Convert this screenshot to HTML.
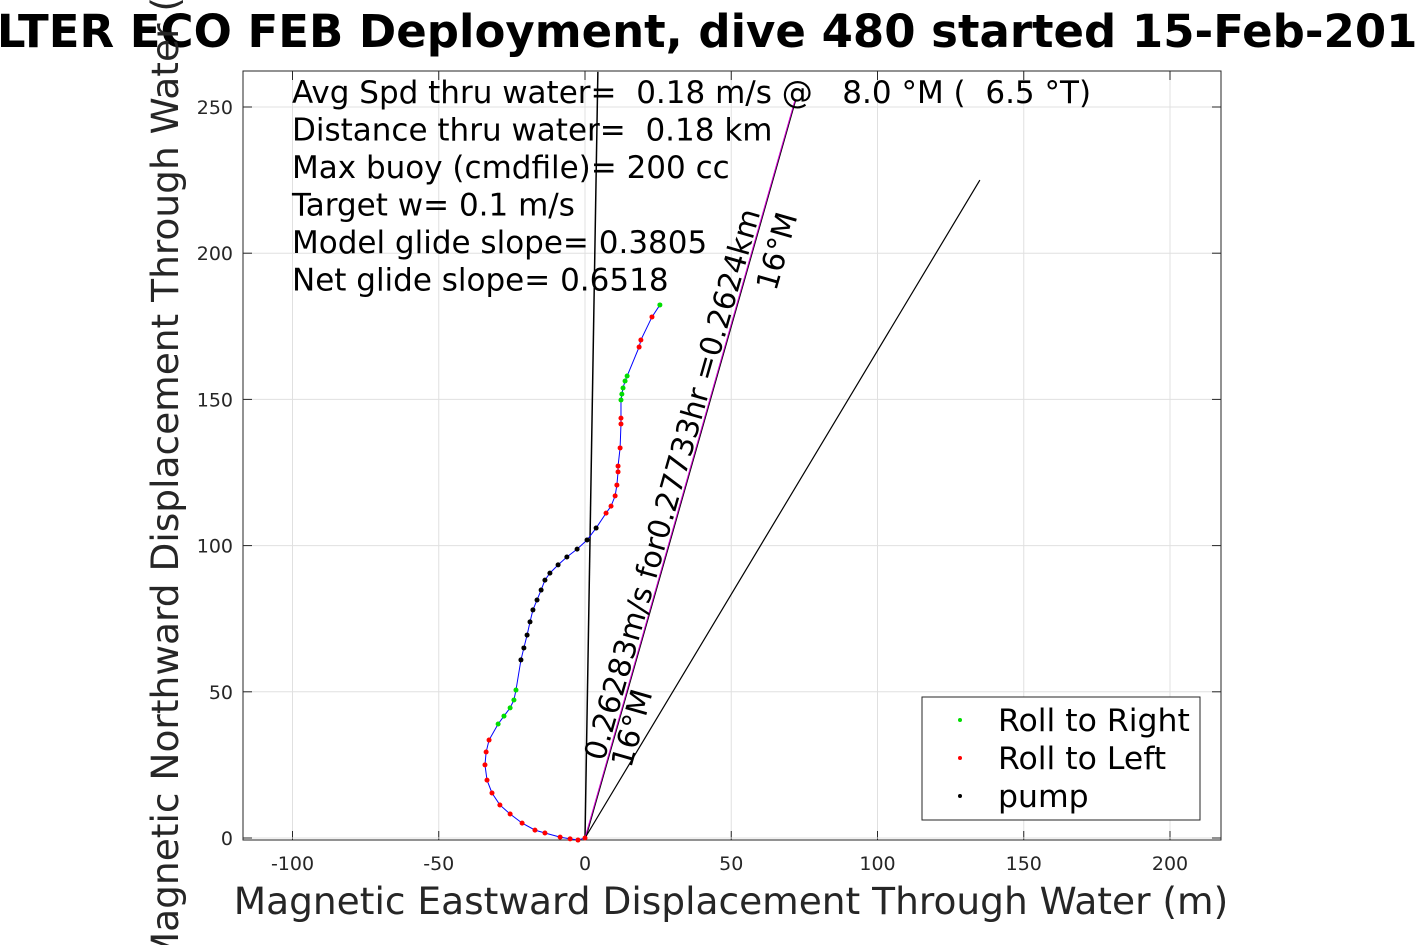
<!DOCTYPE html>
<html><head><meta charset="utf-8"><style>
body{margin:0;background:#fff;}
svg text{font-family:"DejaVu Sans","Liberation Sans",sans-serif;white-space:pre;}
</style></head><body>
<svg id="c" width="1417" height="945" xmlns="http://www.w3.org/2000/svg"></svg>
<script>
const xTicks=[-100,-50,0,50,100,150,200];
const yTicks=[0,50,100,150,200,250];
const trackX=[0,-2.4,-5.1,-8.5,-13.7,-17.1,-21.5,-25.6,-29.1,-31.8,-33.5,-34.2,-33.8,-32.8,-29.7,-27.7,-25.6,-24.3,-23.6,-21.9,-20.9,-19.8,-18.8,-17.8,-16.4,-15.0,-13.7,-12.0,-9.2,-6.2,-2.7,0.7,3.8,7.2,8.9,10.3,10.9,11.3,11.3,12.0,12.3,12.3,12.3,12.6,13.0,13.7,14.4,18.5,19.1,22.9,25.6];
const trackY=[0,-0.7,-0.3,0.3,1.7,2.7,5.1,8.2,11.3,15.4,19.8,25.0,29.4,33.5,39.0,41.7,44.5,47.2,50.6,60.9,65.0,69.4,73.9,78.0,81.4,84.8,88.2,90.6,93.4,96.1,98.8,101.9,106.0,111.1,113.5,117.0,120.7,125.2,127.2,133.4,141.6,143.6,149.8,151.8,153.9,156.3,158.0,167.9,170.3,178.2,182.3];
const trackType=["r","r","r","r","r","r","r","r","r","r","r","r","r","r","g","g","g","g","g","p","p","p","p","p","p","p","p","p","p","p","p","p","p","r","r","r","r","r","r","r","r","r","g","g","g","g","g","r","r","r","g"];
const headingLine=[4.4,262];
const courseLine=[71.8,252.4];
const currentLine=[135,225];
const NS="http://www.w3.org/2000/svg";
const svg=document.getElementById('c');
const L=243,R=1221,T=71,B=840;
const sx=v=>585+v*2.925, sy=v=>838-v*2.924;
function el(t,a,txt){const e=document.createElementNS(NS,t);for(const k in a)e.setAttribute(k,a[k]);if(txt!=null)e.textContent=txt;svg.appendChild(e);return e;}
xTicks.forEach(v=>{const g=el('line',{x1:sx(v),x2:sx(v),y1:T,y2:B,stroke:'#e0e0e0','stroke-width':1});

const t=el('text',{x:sx(v),y:870,'font-size':19,'text-anchor':'middle',fill:'#262626'},v);

el('line',{x1:sx(v),x2:sx(v),y1:B,y2:B-9,stroke:'#262626'});el('line',{x1:sx(v),x2:sx(v),y1:T,y2:T+9,stroke:'#262626'});});
yTicks.forEach(v=>{const g=el('line',{x1:L,x2:R,y1:sy(v),y2:sy(v),stroke:'#e0e0e0','stroke-width':1});

const t=el('text',{x:233,y:sy(v)+7,'font-size':19,'text-anchor':'end',fill:'#262626'},v);

el('line',{x1:L,x2:L+9,y1:sy(v),y2:sy(v),stroke:'#262626'});el('line',{x1:R,x2:R-9,y1:sy(v),y2:sy(v),stroke:'#262626'});});
const box=el('rect',{x:L,y:T,width:R-L,height:B-T,fill:'none',stroke:'#262626','stroke-width':1});

const l1=el('line',{x1:sx(0),y1:sy(0),x2:sx(headingLine[0]),y2:sy(headingLine[1]),stroke:'#000','stroke-width':1.5});

const l2=el('line',{x1:sx(0)+0.8,y1:sy(0),x2:sx(courseLine[0])+0.8,y2:sy(courseLine[1]),stroke:'#000','stroke-width':1});

const l3=el('line',{x1:sx(0),y1:sy(0),x2:sx(courseLine[0]),y2:sy(courseLine[1]),stroke:'#d000d0','stroke-width':1});

const l4=el('line',{x1:sx(0),y1:sy(0),x2:sx(currentLine[0]),y2:sy(currentLine[1]),stroke:'#000','stroke-width':1.2});

const tr=el('polyline',{points:trackX.map((x,i)=>sx(x)+','+sy(trackY[i])).join(' '),fill:'none',stroke:'#0000ff','stroke-width':1});

const col={r:'#ff0000',g:'#00dd00',p:'#000'};
trackX.forEach((x,i)=>{const c=el('circle',{cx:sx(x),cy:sy(trackY[i]),r:2.5,fill:col[trackType[i]]});
});
const ang=Math.atan2(sy(courseLine[1])-sy(0),sx(courseLine[0])-sx(0))*180/Math.PI;
const a1=el('text',{x:0,y:0,'font-size':30,transform:`translate(604,762) rotate(${ang})`},'0.26283m/s for0.27733hr =0.2624km');

const a2=el('text',{x:0,y:0,'font-size':30,transform:`translate(631,769) rotate(${ang})`},'16°M');

const a3=el('text',{x:0,y:0,'font-size':30,transform:`translate(776,292) rotate(${ang})`},'16°M');

const info=['Avg Spd thru water=  0.18 m/s @   8.0 °M (  6.5 °T)','Distance thru water=  0.18 km','Max buoy (cmdfile)= 200 cc','Target w= 0.1 m/s','Model glide slope= 0.3805','Net glide slope= 0.6518'];
info.forEach((s,i)=>{const t=el('text',{x:292,y:103+i*37.5,'font-size':31,fill:'#000'},s);
});
const lg=el('rect',{x:922,y:697,width:278,height:123,fill:'#fff',stroke:'#262626'});

[['Roll to Right','#00dd00'],['Roll to Left','#ff0000'],['pump','#000']].forEach((d,i)=>{
const c=el('circle',{cx:960,cy:720+i*38,r:2,fill:d[1]});
const t=el('text',{x:998,y:731+i*38,'font-size':31.5,fill:'#000'},d[0]);});
const tt=el('text',{x:-38,y:47,'font-size':45,'font-weight':'bold',fill:'#000'},'ALTER ECO FEB Deployment, dive 480 started 15-Feb-2018');

const xl=el('text',{x:731,y:914,'font-size':37.5,'text-anchor':'middle',fill:'#262626'},'Magnetic Eastward Displacement Through Water (m)');

const yl=el('text',{x:0,y:0,'font-size':37.5,'text-anchor':'middle',fill:'#262626',transform:'translate(178,455) rotate(-90)'},'Magnetic Northward Displacement Through Water (m)');

</script>
</body></html>
